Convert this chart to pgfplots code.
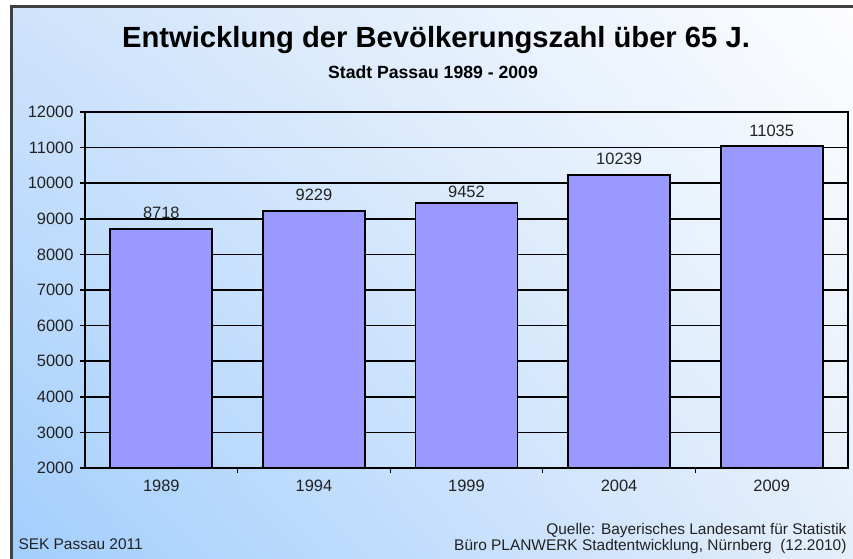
\documentclass[border=0pt]{standalone}
\usepackage{fontspec}
\setmainfont{Liberation Sans}
\usepackage{pgfplots}
\usepackage{pgfplotstable}
\pgfplotsset{compat=1.18}
\usetikzlibrary{shadings}
\definecolor{barfill}{HTML}{9999FF}
\definecolor{bgBL}{HTML}{A2CEFD}
\definecolor{bgTL}{HTML}{CFE3FB}
\definecolor{bgTR}{HTML}{FDFDFE}
\definecolor{bgBR}{HTML}{E4EEFB}
\definecolor{txt}{HTML}{222222}

\pgfplotstableread{
x  y     dy
0  8718  10
1  9229  10
2  9452  5
3  10239 10
4  11035 10
}\datatable

\begin{document}
\begin{tikzpicture}
\path[use as bounding box] (0bp,0bp) rectangle (853bp,559bp);
\fill[white] (0bp,0bp) rectangle (853bp,559bp);
\shade[lower left=bgBL, upper left=bgTL, upper right=bgTR, lower right=bgBR] (12bp,0bp) rectangle (853bp,552bp);
\draw[line width=3bp, color=black!75] (11.5bp,0bp) -- (11.5bp,552.5bp) -- (853bp,552.5bp);

\node[anchor=base, font=\bfseries\fontsize{29.3}{29.3}\selectfont] at (436bp,511bp) {Entwicklung der Bevölkerungszahl über 65 J.};
\node[anchor=base, font=\bfseries\fontsize{17.7}{17.7}\selectfont] at (433bp,480bp) {Stadt Passau 1989 - 2009};

\begin{axis}[
  at={(85bp,91bp)}, anchor=south west,
  width=763bp, height=356bp, scale only axis,
  axis line style={line width=1.8bp},
  xmin=-0.5, xmax=4.5, ymin=2000, ymax=12000,
  xtick={0,1,2,3,4},
  xticklabels={1989,1994,1999,2004,2009},
  minor xtick={0.5,1.5,2.5,3.5},
  ytick={2000,3000,...,12000},
  xtick pos=bottom, ytick pos=left,
  tick align=outside,
  major tick length=5bp, minor tick length=5bp,
  major x tick style={draw=none},
  minor x tick style={line width=1.2bp, black},
  major y tick style={line width=1.5bp, black},
  ymajorgrids,
  grid style={line width=1.6bp, black},
  /pgf/number format/assume math mode=true,
  scaled y ticks=false,
  yticklabel style={/pgf/number format/1000 sep={}, font=\fontsize{16.5}{16.5}\selectfont, text=txt, xshift=-3bp},
  xticklabel style={font=\fontsize{16.5}{16.5}\selectfont, text=txt, yshift=-4bp},
  ybar, bar width=102bp,
  nodes near coords,
  visualization depends on={\thisrow{dy} \as \labdy},
  every node near coord/.append style={font=\fontsize{16.5}{16.5}\selectfont, text=txt, inner sep=0pt, anchor=base, yshift=\labdy bp, /pgf/number format/1000 sep={}},
]
\addplot[fill=barfill, draw=black, line width=1.8bp] table[x=x, y=y] {\datatable};
\draw[line width=1.8bp] (rel axis cs:0,0) -- (rel axis cs:1,0);
\end{axis}

\node[anchor=base west, font=\fontsize{15.5}{15.5}\selectfont, text=txt] at (15bp,10bp) {SEK Passau 2011};
\node[anchor=base east, font=\fontsize{15.5}{15.5}\selectfont, text=txt] at (850bp,25bp) {Quelle: Bayerisches Landesamt für Statistik};
\node[anchor=base east, font=\fontsize{15.5}{15.5}\selectfont, text=txt] at (850bp,9bp) {Büro PLANWERK Stadtentwicklung, Nürnberg\ \ (12.2010)};
\end{tikzpicture}
\end{document}
